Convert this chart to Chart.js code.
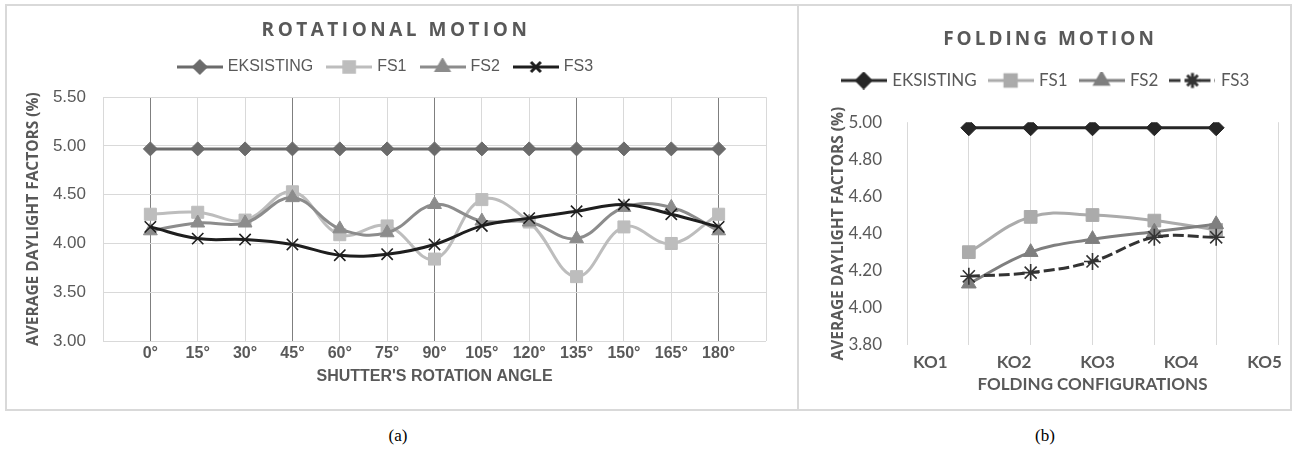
<!DOCTYPE html>
<html>
<head>
<meta charset="utf-8">
<script src="https://cdn.jsdelivr.net/npm/chart.js@4/dist/chart.umd.min.js"></script>
<style>
  body { margin: 0; background: #fff; width: 1293px; height: 455px; position: relative; overflow: hidden; }
  .box { position: absolute; border: 2px solid #d9d9d9; box-sizing: border-box; }
  canvas { position: absolute; }
  .cap { position: absolute; top: 426px; font: 17px "Liberation Serif", serif; color: #000; transform: translateX(-50%); }
</style>
</head>
<body>
<div class="box" style="left:5px;top:4px;width:794px;height:407px;"></div>
<div class="box" style="left:797px;top:4px;width:495px;height:407px;"></div>
<canvas id="rot" width="790" height="403" style="left:7px;top:6px;"></canvas>
<canvas id="fold" width="492" height="403" style="left:799px;top:6px;"></canvas>
<div class="cap" style="left:398px;">(a)</div>
<div class="cap" style="left:1045px;">(b)</div>
<script>
// rotational motion (a)
var angles = [0, 15, 30, 45, 60, 75, 90, 105, 120, 135, 150, 165, 180];
var rotExisting = [4.97, 4.97, 4.97, 4.97, 4.97, 4.97, 4.97, 4.97, 4.97, 4.97, 4.97, 4.97, 4.97];
var rotFS1 = [4.30, 4.32, 4.24, 4.53, 4.09, 4.18, 3.84, 4.45, 4.22, 3.66, 4.17, 4.00, 4.30];
var rotFS2 = [4.13, 4.21, 4.21, 4.47, 4.15, 4.11, 4.40, 4.23, 4.22, 4.05, 4.37, 4.37, 4.13];
var rotFS3 = [4.17, 4.05, 4.04, 3.99, 3.88, 3.89, 3.99, 4.18, 4.26, 4.33, 4.40, 4.30, 4.17];

// folding motion (b)
var configs = ['KO1', 'KO2', 'KO3', 'KO4', 'KO5'];
var foldExisting = [4.97, 4.97, 4.97, 4.97, 4.97];
var foldFS1 = [4.30, 4.49, 4.50, 4.47, 4.42];
var foldFS2 = [4.13, 4.30, 4.37, 4.41, 4.45];
var foldFS3 = [4.17, 4.19, 4.25, 4.38, 4.38];

var TEXT = '#595959';
var GRID = '#d9d9d9';

// legend icon: a short line with the marker on it, like Excel
function legendIcon(ds) {
  var c = document.createElement('canvas');
  c.width = 46; c.height = 18;
  var g = c.getContext('2d');
  g.strokeStyle = ds.borderColor;
  g.fillStyle = ds.borderColor;
  g.lineWidth = 3;
  g.setLineDash(ds.borderDash || []);
  g.beginPath(); g.moveTo(0, 9); g.lineTo(46, 9); g.stroke();
  g.setLineDash([]);
  Chart.helpers.drawPoint(g, { pointStyle: ds.pointStyle, radius: ds.pointRadius - 1, borderWidth: ds.pointBorderWidth, rotation: 0 }, 23, 9);
  return c;
}

function legendLabels(chart) {
  return chart.data.datasets.map(function (ds, i) {
    return { text: ds.label, pointStyle: legendIcon(ds), fillStyle: 'transparent', strokeStyle: 'transparent', lineWidth: 0, fontColor: TEXT, datasetIndex: i };
  });
}

// spaced-out chart title drawn on the canvas
var spacedTitle = {
  id: 'spacedTitle',
  afterDraw: function (chart, args, opts) {
    var ctx = chart.ctx;
    ctx.save();
    ctx.font = opts.font;
    ctx.letterSpacing = opts.spacing + 'px';
    ctx.fillStyle = TEXT;
    ctx.textAlign = 'center';
    ctx.textBaseline = 'middle';
    ctx.fillText(opts.text, opts.x, opts.y);
    ctx.restore();
  }
};

function series(label, xs, ys, color, style, radius, extra) {
  var ds = {
    label: label,
    data: ys.map(function (v, i) { return { x: xs[i], y: v }; }),
    borderColor: color,
    backgroundColor: color,
    pointBackgroundColor: color,
    pointBorderColor: color,
    borderWidth: 3,
    pointStyle: style,
    pointRadius: radius,
    pointBorderWidth: style === 'crossRot' || style === 'star' ? 1.6 : 1,
    tension: 0.4
  };
  for (var k in extra) ds[k] = extra[k];
  return ds;
}

var rotFont = '"Liberation Sans", sans-serif';

new Chart(document.getElementById('rot'), {
  type: 'line',
  data: {
    datasets: [
      series('EKSISTING', angles, rotExisting, '#6b6b6b', 'rectRot', 7, { order: 4 }),
      series('FS1', angles, rotFS1, '#bdbdbd', 'rect', 8.5, { order: 3 }),
      series('FS2', angles, rotFS2, '#8c8c8c', 'triangle', 8, { order: 2 }),
      series('FS3', angles, rotFS3, '#1e1e1e', 'crossRot', 8, { order: 1 })
    ]
  },
  plugins: [spacedTitle],
  options: {
    responsive: false,
    devicePixelRatio: 1,
    animation: false,
    layout: { padding: { top: 37, right: 31, left: 0, bottom: 23 } },
    plugins: {
      spacedTitle: { text: 'ROTATIONAL MOTION', font: 'bold 19px "Open Sans", sans-serif', spacing: 3.5, x: 389, y: 25 },
      title: { display: false },
      // empty block that keeps the gap between legend and plot
      subtitle: { display: true, text: '', weight: 500, position: 'top', font: { size: 1 }, padding: { top: 0, bottom: 11 } },
      tooltip: { enabled: false },
      legend: {
        labels: {
          usePointStyle: true, pointStyleWidth: 40, boxHeight: 16, padding: 16,
          color: TEXT, font: { family: rotFont, size: 16 },
          generateLabels: legendLabels
        }
      }
    },
    scales: {
      x: {
        type: 'linear', min: -15, max: 195,
        border: { display: false },
        grid: {
          drawTicks: false,
          color: function (c) {
            var v = c.tick.value;
            return (v >= 0 && v <= 180 && v % 45 === 0) ? '#7f7f7f' : GRID;
          }
        },
        ticks: {
          stepSize: 15, padding: 3, color: TEXT, autoSkip: false,
          font: { family: rotFont, size: 16, weight: 'bold' },
          callback: function (v) { return angles.indexOf(v) >= 0 ? v + '°' : ''; }
        },
        title: { display: true, text: "SHUTTER'S ROTATION ANGLE", color: TEXT, padding: 0, font: { family: rotFont, size: 16, weight: 'bold' } },
        afterFit: function (s) { s.height = 45; }
      },
      y: {
        min: 3, max: 5.5,
        border: { display: false },
        grid: { drawTicks: false, color: GRID },
        ticks: { stepSize: 0.5, padding: 17, color: TEXT, font: { family: rotFont, size: 17 }, callback: function (v) { return v.toFixed(2); } },
        title: { display: true, text: 'AVERAGE DAYLIGHT FACTORS (%)', color: TEXT, padding: { top: 17, bottom: 0 }, font: { family: '"Open Sans", sans-serif', size: 15.5, weight: 'bold' } },
        afterFit: function (s) { s.width = 96; }
      }
    }
  }
});

var koPos = configs.map(function (k, i) { return i + 1; });
var foldFont = 'Lato, "Open Sans", sans-serif';

new Chart(document.getElementById('fold'), {
  type: 'line',
  data: {
    datasets: [
      series('EKSISTING', koPos, foldExisting, '#262626', 'rectRot', 8, { order: 4 }),
      series('FS1', koPos, foldFS1, '#ababab', 'rect', 9, { order: 3 }),
      series('FS2', koPos, foldFS2, '#7f7f7f', 'triangle', 8.5, { order: 2 }),
      series('FS3', koPos, foldFS3, '#333333', 'star', 8.5, { order: 1, borderDash: [11, 4] })
    ]
  },
  plugins: [spacedTitle],
  options: {
    responsive: false,
    devicePixelRatio: 1,
    animation: false,
    layout: { padding: { top: 52, right: 13, left: 16, bottom: 14 } },
    plugins: {
      spacedTitle: { text: 'FOLDING MOTION', font: 'bold 19px "Open Sans", sans-serif', spacing: 3, x: 251, y: 34 },
      title: { display: false },
      subtitle: { display: true, text: '', weight: 500, position: 'top', font: { size: 1 }, padding: { top: 0, bottom: 22 } },
      tooltip: { enabled: false },
      legend: {
        labels: {
          usePointStyle: true, pointStyleWidth: 40, boxHeight: 16, padding: 14,
          color: TEXT, font: { family: foldFont, size: 17 },
          generateLabels: legendLabels
        }
      }
    },
    scales: {
      x: {
        type: 'linear', min: 0, max: 6,
        border: { display: false },
        grid: { drawTicks: false, color: GRID },
        ticks: { display: false, stepSize: 1 },
        afterFit: function (s) { s.height = 0; }
      },
      // Excel spreads the category labels over their own span
      xLabels: {
        type: 'linear', position: 'bottom', min: 0.72, max: 5.16,
        border: { display: false },
        grid: { display: false, drawTicks: false },
        ticks: {
          stepSize: 1, padding: 7, color: TEXT, autoSkip: false, includeBounds: false,
          font: { family: foldFont, size: 17, weight: 'bold' },
          callback: function (v) { return configs[v - 1] || ''; }
        },
        title: { display: true, text: 'FOLDING CONFIGURATIONS', color: TEXT, padding: 0, font: { family: foldFont, size: 17, weight: 'bold' } },
        afterFit: function (s) { s.height = 50; }
      },
      y: {
        min: 3.8, max: 5.0,
        border: { display: false },
        grid: { display: false },
        ticks: { stepSize: 0.2, padding: 17, color: TEXT, font: { family: foldFont, size: 17 }, callback: function (v) { return v.toFixed(2); } },
        title: { display: true, text: 'AVERAGE DAYLIGHT FACTORS (%)', color: TEXT, padding: { top: 14, bottom: 0 }, font: { family: '"Open Sans", sans-serif', size: 15.5, weight: 'bold' } },
        afterFit: function (s) { s.width = 92; }
      }
    }
  }
});
</script>
</body>
</html>
